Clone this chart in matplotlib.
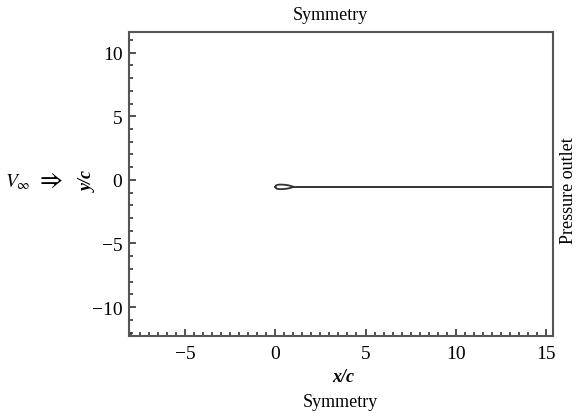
import matplotlib
matplotlib.use("Agg")
import matplotlib.pyplot as plt
from matplotlib.ticker import MultipleLocator

# ─── Data ─────────────────────────────────────────────────────────────────────
# airfoil outline: chord positions and half-thickness, placed at y = Y0
airfoil_x = [0.0, 0.02, 0.05, 0.1, 0.2, 0.3, 0.4, 0.5, 0.6, 0.7, 0.8, 0.9, 1.0]
airfoil_t = [0.0, 0.08, 0.12, 0.15, 0.175, 0.18, 0.175, 0.165, 0.15, 0.125, 0.095, 0.055, 0.0]
Y0 = -0.55

# wake cut line from trailing edge to outlet
wake_x = [1.0, 15.4]
wake_y = [-0.55, -0.55]

x_ticks = [-5, 0, 5, 10, 15]
y_ticks = [-10, -5, 0, 5, 10]

# ─── Style ────────────────────────────────────────────────────────────────────
plt.rcParams["font.family"] = ["Liberation Serif", "DejaVu Serif"]
plt.rcParams["mathtext.fontset"] = "stix"
LINE = "#333333"

fig = plt.figure(figsize=(5.81, 4.14), dpi=100)
ax = fig.add_axes([0.2226, 0.1867, 0.7292, 0.7329])

upper = [Y0 + t for t in airfoil_t]
lower = [Y0 - t for t in airfoil_t]
ax.plot(airfoil_x + airfoil_x[::-1], upper + lower[::-1], color=LINE, lw=1.3)
ax.plot(wake_x, wake_y, color=LINE, lw=1.4)

ax.set_xlim(-8.1, 15.4)
ax.set_ylim(-12.25, 11.6)
ax.set_xticks(x_ticks)
ax.set_yticks(y_ticks)
ax.xaxis.set_minor_locator(MultipleLocator(0.5))
ax.yaxis.set_minor_locator(MultipleLocator(1))
ax.tick_params(which="both", direction="in", top=False, right=False,
               color=LINE, width=1.2, labelsize=14)
ax.tick_params(which="major", length=5)
ax.tick_params(which="minor", length=3)
ax.tick_params(axis="x", pad=7)
ax.tick_params(axis="y", pad=5)
for s in ax.spines.values():
    s.set_color("#555555")
    s.set_linewidth(1.5)

# ─── Boundary annotations ─────────────────────────────────────────────────────
fig.text(0.568, 0.963, "Symmetry", ha="center", va="center", fontsize=13)
fig.text(0.585, 0.027, "Symmetry", ha="center", va="center", fontsize=13)
fig.text(0.590, 0.087, "x/c", ha="center", va="center", fontsize=13,
         style="italic", fontweight="bold")
fig.text(0.152, 0.562, "y/c", ha="center", va="center", fontsize=13,
         style="italic", fontweight="bold", rotation=90)
fig.text(0.979, 0.540, "Pressure outlet", ha="center", va="center",
         fontsize=13, rotation=90)
fig.text(0.030, 0.560, r"$V_{\infty}$", ha="center", va="center", fontsize=14)
fig.text(0.086, 0.562, r"$\Rightarrow$", ha="center", va="center", fontsize=18)

plt.savefig("out.png", dpi=100)
